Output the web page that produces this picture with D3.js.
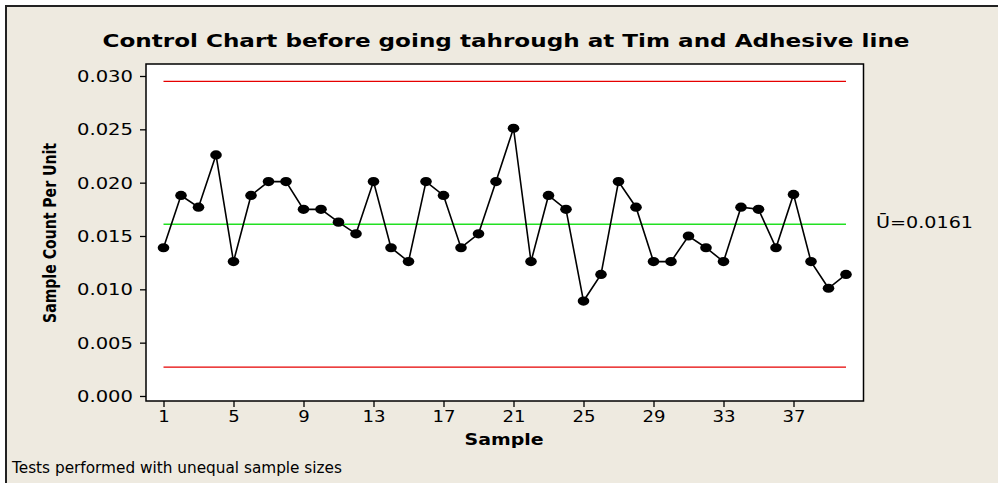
<!DOCTYPE html>
<html>
<head>
<meta charset="utf-8">
<script src="https://cdn.jsdelivr.net/npm/d3@7"></script>
<style>
  html, body { margin: 0; padding: 0; background: #ffffff; }
  svg { display: block; }
</style>
</head>
<body>
<svg id="chart" width="998" height="483"></svg>
<script>
// ---- Data ----
const samples = d3.range(1, 41);
const values = [
  0.0139, 0.0188, 0.0177, 0.0226, 0.0126, 0.0188, 0.0201, 0.0201, 0.0175, 0.0175,
  0.0163, 0.0152, 0.0201, 0.0139, 0.0126, 0.0201, 0.0188, 0.0139, 0.0152, 0.0201,
  0.0251, 0.0126, 0.0188, 0.0175, 0.0089, 0.0114, 0.0201, 0.0177, 0.0126, 0.0126,
  0.0150, 0.0139, 0.0126, 0.0177, 0.0175, 0.0139, 0.0189, 0.0126, 0.0101, 0.0114
];
const centerLine = 0.0161;
const ucl = 0.0295;
const lcl = 0.0027;
const xTickValues = [1, 5, 9, 13, 17, 21, 25, 29, 33, 37];
const yTickValues = [0, 0.005, 0.010, 0.015, 0.020, 0.025, 0.030];
const titleText = "Control Chart before going tahrough at Tim and Adhesive line";
const xLabel = "Sample";
const yLabel = "Sample Count Per Unit";
const centerLabel = "\u016A=0.0161";
const footnote = "Tests performed with unequal sample sizes";

// ---- Layout ----
const svg = d3.select("#chart");
const plot = { left: 146, right: 863.5, top: 64, bottom: 401 };
const bg = "#EEEAE0";

svg.append("rect").attr("x", 6).attr("y", 6).attr("width", 998).attr("height", 483)
  .attr("fill", bg);
svg.append("line").attr("x1", 6).attr("x2", 6).attr("y1", 5).attr("y2", 483)
  .attr("stroke", "#222").attr("stroke-width", 2);
svg.append("line").attr("x1", 5).attr("x2", 998).attr("y1", 6).attr("y2", 6)
  .attr("stroke", "#222").attr("stroke-width", 2);

const x = d3.scaleLinear().domain([0, 41]).range([plot.left, plot.right]);
const y = d3.scaleLinear().domain([-0.00047, 0.031125]).range([plot.bottom, plot.top]);

// plot area
svg.append("rect")
  .attr("x", plot.left).attr("y", plot.top)
  .attr("width", plot.right - plot.left).attr("height", plot.bottom - plot.top)
  .attr("fill", "#ffffff").attr("stroke", "#000").attr("stroke-width", 1.5);

// Title
svg.append("text")
  .attr("x", 506).attr("y", 46.5)
  .attr("text-anchor", "middle")
  .attr("font-family", "DejaVu Sans, Verdana, sans-serif")
  .attr("font-weight", "bold").attr("font-size", 18)
  .attr("textLength", 807).attr("lengthAdjust", "spacingAndGlyphs")
  .attr("fill", "#000")
  .text(titleText);

// Y axis
const yAxis = d3.axisLeft(y).tickValues(yTickValues).tickFormat(d3.format(".3f"))
  .tickSize(6).tickPadding(7);
const gy = svg.append("g").attr("transform", `translate(${plot.left},0)`).call(yAxis);
gy.select(".domain").remove();
gy.selectAll(".tick line").attr("stroke", "#000").attr("stroke-width", 1.3);
gy.selectAll(".tick text")
  .attr("font-family", "DejaVu Sans, Verdana, sans-serif")
  .attr("font-size", 15).attr("fill", "#000")
  .attr("textLength", 56).attr("lengthAdjust", "spacingAndGlyphs")
  .attr("dy", "0.36em");

// X axis
const xAxis = d3.axisBottom(x).tickValues(xTickValues).tickFormat(d3.format("d"))
  .tickSize(6).tickPadding(4);
const gx = svg.append("g").attr("transform", `translate(0,${plot.bottom})`).call(xAxis);
gx.select(".domain").remove();
gx.selectAll(".tick line").attr("stroke", "#000").attr("stroke-width", 1.3);
gx.selectAll(".tick text")
  .attr("font-family", "DejaVu Sans, Verdana, sans-serif")
  .attr("font-size", 16).attr("fill", "#000")
  .attr("textLength", d => String(d).length * 11.5)
  .attr("lengthAdjust", "spacingAndGlyphs");

// Axis labels
svg.append("text")
  .attr("x", 504).attr("y", 445)
  .attr("text-anchor", "middle")
  .attr("font-family", "DejaVu Sans, Verdana, sans-serif")
  .attr("font-weight", "bold").attr("font-size", 16)
  .attr("textLength", 79).attr("lengthAdjust", "spacingAndGlyphs")
  .attr("fill", "#000")
  .text(xLabel);

svg.append("text")
  .attr("transform", "translate(56,233) rotate(-90)")
  .attr("text-anchor", "middle")
  .attr("font-family", "DejaVu Sans Condensed, DejaVu Sans, sans-serif")
  .attr("font-weight", "bold").attr("font-size", 17)
  .attr("textLength", 180).attr("lengthAdjust", "spacingAndGlyphs")
  .attr("fill", "#000")
  .text(yLabel);

// Control limits & center line
const limitData = [ucl, lcl];
svg.selectAll("line.limit").data(limitData).enter().append("line")
  .attr("class", "limit")
  .attr("x1", x(samples[0])).attr("x2", x(samples[samples.length - 1]))
  .attr("y1", d => y(d)).attr("y2", d => y(d))
  .attr("stroke", "#E60000").attr("stroke-width", 1.3);

svg.append("line")
  .attr("x1", x(samples[0])).attr("x2", x(samples[samples.length - 1]))
  .attr("y1", y(centerLine)).attr("y2", y(centerLine))
  .attr("stroke", "#22E022").attr("stroke-width", 1.5);

svg.append("text")
  .attr("x", 876).attr("y", 227.5)
  .attr("font-family", "DejaVu Sans, Verdana, sans-serif")
  .attr("font-size", 15).attr("fill", "#000")
  .attr("textLength", 97).attr("lengthAdjust", "spacingAndGlyphs")
  .text(centerLabel);

// Data line
const line = d3.line().x((d, i) => x(samples[i])).y(d => y(d));
svg.append("path").datum(values)
  .attr("d", line).attr("fill", "none")
  .attr("stroke", "#000").attr("stroke-width", 1.6);

svg.selectAll("ellipse.pt").data(values).enter().append("ellipse")
  .attr("class", "pt")
  .attr("cx", (d, i) => x(samples[i])).attr("cy", d => y(d))
  .attr("rx", 5.8).attr("ry", 4.6)
  .attr("fill", "#000");

// Footnote
svg.append("text")
  .attr("x", 12).attr("y", 473)
  .attr("font-family", "DejaVu Sans, Verdana, sans-serif")
  .attr("font-size", 15).attr("fill", "#000")
  .attr("textLength", 330).attr("lengthAdjust", "spacingAndGlyphs")
  .text(footnote);
</script>
</body>
</html>
